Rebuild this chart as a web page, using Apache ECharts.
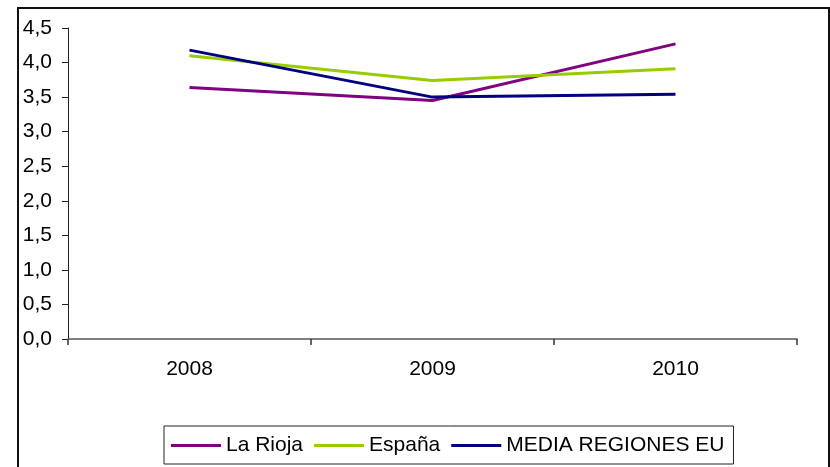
<!DOCTYPE html>
<html>
<head>
<meta charset="utf-8">
<script src="https://cdn.jsdelivr.net/npm/echarts@6/dist/echarts.min.js"></script>
<style>
html,body{margin:0;padding:0;background:#fff;}
#chart{width:830px;height:467px;}
</style>
</head>
<body>
<div id="chart"></div>
<script>
const categories = ['2008', '2009', '2010'];
const laRioja = [3.64, 3.45, 4.27];
const espana = [4.10, 3.74, 3.91];
const mediaRegionesEU = [4.18, 3.50, 3.54];
const seriesNames = ['La Rioja', 'España', 'MEDIA REGIONES EU'];

const FONT = '"Liberation Sans", Arial, sans-serif';
const chart = echarts.init(document.getElementById('chart'), null, {renderer: 'canvas'});
chart.setOption({
  animation: false,
  backgroundColor: '#fff',
  textStyle: {fontFamily: FONT, color: '#000'},
  graphic: [{
    type: 'rect',
    shape: {x: 18, y: 8, width: 811, height: 480},
    style: {fill: 'none', stroke: '#111', lineWidth: 2},
    silent: true
  }],
  grid: {left: 68, right: 33, top: 28, bottom: 128, containLabel: false},
  legend: {
    data: seriesNames,
    left: 164,
    top: 426,
    orient: 'horizontal',
    icon: 'rect',
    itemWidth: 50,
    itemHeight: 3,
    itemGap: 11,
    padding: [9, 9, 8, 7],
    borderColor: '#222',
    borderWidth: 1,
    textStyle: {fontFamily: FONT, fontSize: 21, color: '#000'}
  },
  xAxis: {
    type: 'category',
    data: categories,
    boundaryGap: true,
    axisLine: {show: true, lineStyle: {color: '#555', width: 1.5}},
    axisTick: {show: true, alignWithLabel: false, length: 6, inside: false, lineStyle: {color: '#333', width: 1.5}},
    axisLabel: {fontFamily: FONT, fontSize: 21, color: '#000', margin: 20},
    splitLine: {show: false}
  },
  yAxis: {
    type: 'value',
    min: 0,
    max: 4.5,
    interval: 0.5,
    axisLine: {show: true, lineStyle: {color: '#222', width: 1}},
    axisTick: {show: true, length: 6, inside: false, lineStyle: {color: '#222', width: 1}},
    axisLabel: {
      fontFamily: FONT, fontSize: 21, color: '#000', margin: 16,
      formatter: v => v.toFixed(1).replace('.', ',')
    },
    splitLine: {show: false}
  },
  series: [
    {name: seriesNames[0], type: 'line', data: laRioja, symbol: 'none', color: '#800080', lineStyle: {width: 3}},
    {name: seriesNames[1], type: 'line', data: espana, symbol: 'none', color: '#99CC00', lineStyle: {width: 3}},
    {name: seriesNames[2], type: 'line', data: mediaRegionesEU, symbol: 'none', color: '#000080', lineStyle: {width: 3}}
  ]
});
</script>
</body>
</html>
